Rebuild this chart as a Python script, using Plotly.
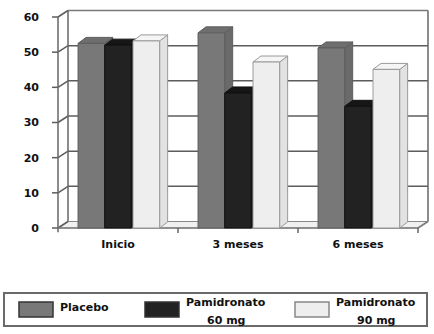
import plotly.graph_objects as go

# ---- data ----
categories = ["Inicio", "3 meses", "6 meses"]
series_names = ["Placebo", "Pamidronato 60 mg", "Pamidronato 90 mg"]
legend_lines = [["Placebo"], ["Pamidronato", "60 mg"], ["Pamidronato", "90 mg"]]
placebo = [52.5, 55.5, 51.2]
pami60 = [52.0, 38.4, 34.6]
pami90 = [53.2, 47.2, 45.1]
y_ticks = [0, 10, 20, 30, 40, 50, 60]
series_values = [placebo, pami60, pami90]

# ---- styling / geometry ----
W, H = 434, 334
ML, MR, MT, MB = 52, 4, 6, 98
PX_CAT = 120.0            # pixels per category
PX_UNIT = 211.0 / 60.0    # pixels per value unit
front_x0 = 58             # pixel of x=-0.5
front_y0 = 228            # pixel of y=0
plot_w = W - ML - MR
plot_h = H - MT - MB
x_lo = -0.5 - (front_x0 - ML) / PX_CAT
x_hi = x_lo + plot_w / PX_CAT
y_lo = -((H - MB) - front_y0) / PX_UNIT
y_hi = y_lo + plot_h / PX_UNIT

dxw, dyw = 10 / PX_CAT, 6.5 / PX_UNIT   # wall depth
dxb, dyb = 8 / PX_CAT, 6.0 / PX_UNIT    # bar depth
bw = 0.222
offsets = [-0.222, 0.0, 0.236]
front_cols = ["#787878", "#222222", "#eeeeee"]
edge_cols = ["#5e5e5e", "#111111", "#9a9a9a"]
side_cols = ["#6a6a6a", "#1a1a1a", "#e2e2e2"]
top_cols = ["#6e6e6e", "#161616", "#f5f5f5"]
grid_col = "#5c5c5c"
FONT = "DejaVu Sans"

xmin, xmax = -0.5, len(categories) - 0.5
ymax = max(y_ticks)

shapes = []


def line(x0, y0, x1, y1, color=grid_col, width=1.5):
    shapes.append(dict(type="line", xref="x", yref="y", x0=x0, y0=y0, x1=x1, y1=y1,
                       line=dict(color=color, width=width), layer="below"))


def poly(pts, fill, color, width=1):
    p = "M " + " L ".join(f"{a},{b}" for a, b in pts) + " Z"
    shapes.append(dict(type="path", xref="x", yref="y", path=p, fillcolor=fill,
                       line=dict(color=color, width=width), layer="below"))


# floor
poly([(xmin, 0), (xmax, 0), (xmax + dxw, dyw), (xmin + dxw, dyw)], "#f0f0f0", "#a5a5a5", 1)
# back wall gridlines
for v in y_ticks:
    if 0 < v < ymax:
        line(xmin + dxw, v + dyw, xmax + dxw, v + dyw)
    line(xmin, v, xmin + dxw, v + dyw)         # side wall
    line(xmin - 6 / PX_CAT, v, xmin, v)        # front ticks
# back wall border
line(xmin + dxw, dyw, xmin + dxw, ymax + dyw, "#666666", 1.5)
line(xmin + dxw, ymax + dyw, xmax + dxw, ymax + dyw, "#7a7a7a", 1.5)
line(xmax + dxw, dyw, xmax + dxw, ymax + dyw, "#666666", 1.5)
line(xmin + dxw, dyw, xmax + dxw, dyw, "#8a8a8a", 1)
# front axis & floor front edge
line(xmin, -1.2, xmin, ymax, "#666666", 1.5)
line(xmin, 0, xmax, 0, "#7a7a7a", 1.5)
line(xmax, 0, xmax + dxw, dyw, "#7a7a7a", 1.5)
for k in range(len(categories)):
    b = k + 0.5
    line(b, 0, b, -5 / PX_UNIT, "#666666", 1.5)

# bar 3D faces (drawn below the front faces)
for ci in range(len(categories)):
    for si, vals in enumerate(series_values):
        c = ci + offsets[si]
        v = vals[ci]
        l, r = c - bw / 2, c + bw / 2
        poly([(r, 0), (r, v), (r + dxb, v + dyb), (r + dxb, dyb)], side_cols[si], edge_cols[si], 1)
        poly([(l, v), (r, v), (r + dxb, v + dyb), (l + dxb, v + dyb)], top_cols[si], edge_cols[si], 1)

fig = go.Figure()
for si, vals in enumerate(series_values):
    fig.add_trace(go.Bar(
        x=[i + offsets[si] for i in range(len(categories))], y=vals, width=bw,
        name=series_names[si], showlegend=False,
        marker=dict(color=front_cols[si], line=dict(color=edge_cols[si], width=1)),
        hoverinfo="y"))


# ---- custom legend ----
def px_x(p):
    return (p - ML) / plot_w


def px_y(p):
    return ((H - MB) - p) / plot_h


legend_shapes = [dict(type="rect", xref="paper", yref="paper",
                      x0=px_x(4), x1=px_x(427), y0=px_y(326), y1=px_y(293),
                      line=dict(color="#6a6a6a", width=2), fillcolor="white")]
annotations = []
sw_x = [19, 145, 295]
txt_x = [58, 226, 376]
for si in range(len(series_names)):
    legend_shapes.append(dict(type="rect", xref="paper", yref="paper",
                              x0=px_x(sw_x[si]), x1=px_x(sw_x[si] + 34),
                              y0=px_y(317), y1=px_y(302),
                              fillcolor=front_cols[si],
                              line=dict(color="#333333" if si < 2 else "#888888", width=1.5)))
    lines = legend_lines[si]
    if len(lines) == 1:
        annotations.append(dict(xref="paper", yref="paper", x=px_x(txt_x[si]), y=px_y(307),
                                text=lines[0], showarrow=False, xanchor="left", yanchor="middle",
                                font=dict(family=FONT, size=11, color="#111111", weight="bold")))
    else:
        for li, (t, yy) in enumerate(zip(lines, [303, 320])):
            annotations.append(dict(xref="paper", yref="paper", x=px_x(txt_x[si]), y=px_y(yy),
                                    text=t, showarrow=False, xanchor="center", yanchor="middle",
                                    font=dict(family=FONT, size=11, color="#111111", weight="bold")))

fig.update_layout(
    width=W, height=H,
    margin=dict(l=ML, r=MR, t=MT, b=MB, pad=0, autoexpand=False),
    paper_bgcolor="white", plot_bgcolor="white",
    barmode="overlay",
    shapes=shapes + legend_shapes,
    annotations=annotations,
    xaxis=dict(range=[x_lo, x_hi], tickvals=list(range(len(categories))), ticktext=categories,
               showgrid=False, zeroline=False, showline=False, ticks="", automargin=False,
               tickfont=dict(family=FONT, size=11, color="#111111", weight="bold")),
    yaxis=dict(range=[y_lo, y_hi], tickvals=y_ticks, showgrid=False, zeroline=False,
               showline=False, ticks="", ticklabelstandoff=12, automargin=False,
               tickfont=dict(family=FONT, size=11, color="#111111", weight="bold")),
)

fig.write_html("out.html", config={"displayModeBar": False},
               post_script="document.body.style.margin='0';document.body.style.overflow='hidden';")
